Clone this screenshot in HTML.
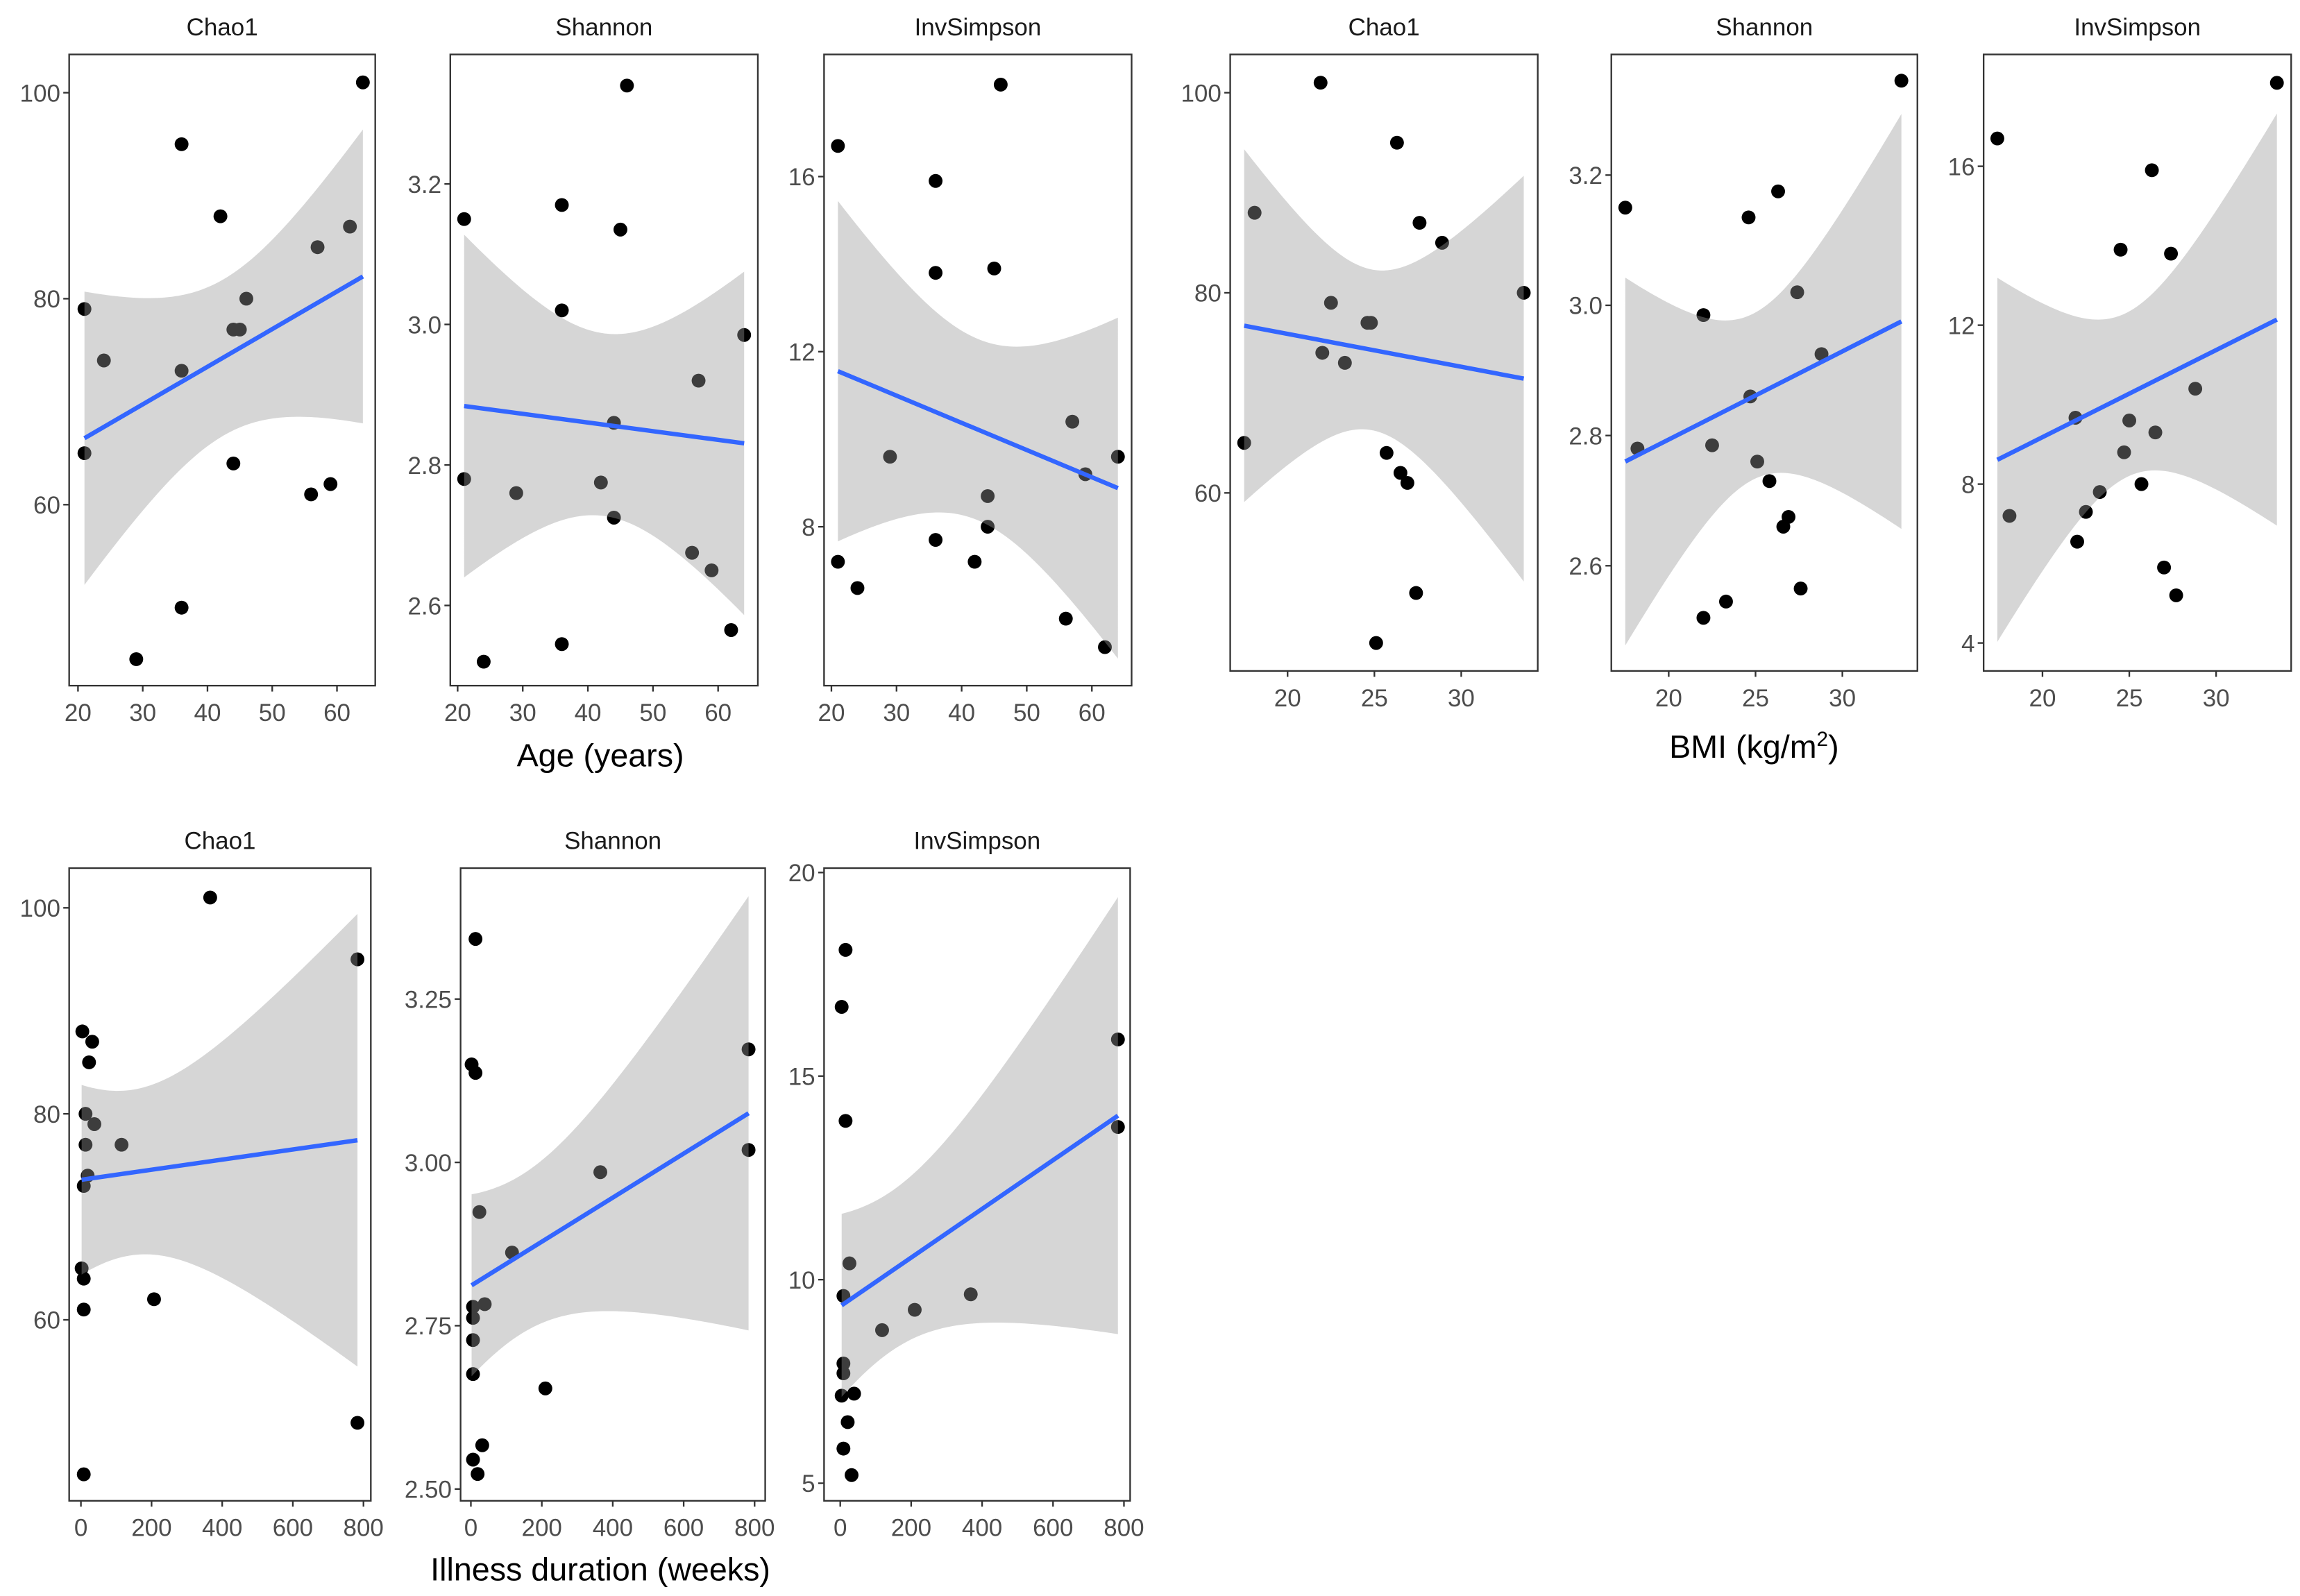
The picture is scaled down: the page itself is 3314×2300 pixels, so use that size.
<!DOCTYPE html>
<html><head><meta charset="utf-8">
<style>
html,body{margin:0;padding:0;background:#fff;}
svg{display:block;}
text{font-family:"Liberation Sans",Arial,sans-serif;}
</style></head>
<body>
<svg id="chart" width="3314" height="2300" viewBox="0 0 1563 1084.7" preserveAspectRatio="none" xmlns="http://www.w3.org/2000/svg">
<text x="408" y="521" font-size="22" text-anchor="middle" fill="#000">Age (years)</text>
<text x="1192" y="515" font-size="22" text-anchor="middle" fill="#000">BMI (kg/m<tspan dy="-8" font-size="14">2</tspan><tspan dy="8">)</tspan></text>
<text x="408" y="1074" font-size="22" text-anchor="middle" fill="#000">Illness duration (weeks)</text>
</svg>
<script>
const ageChaoX=[21,21,24,29,36,36,36,42,44,44,45,46,56,57,59,62,64];
const ageChao=[79,65,74,45,95,73,50,88,77,64,77,80,61,85,62,87,101];
const ageShanX=[21,21,24,29,36,36,36,42,44,44,45,46,56,57,59,62,64];
const ageShan=[3.15,2.78,2.52,2.76,3.17,3.02,2.545,2.775,2.86,2.725,3.135,3.34,2.675,2.92,2.65,2.565,2.985];
const ageInvX=[21,21,24,29,36,36,36,42,44,44,45,46,56,57,59,62,64];
const ageInv=[16.7,7.2,6.6,9.6,15.9,13.8,7.7,7.2,8.7,8.0,13.9,18.1,5.9,10.4,9.2,5.25,9.6];
const bmiChaoX=[17.5,18.1,21.9,22,22.5,23.3,24.6,24.8,25.1,25.7,26.3,26.5,26.9,27.4,27.6,28.9,33.6];
const bmiChao=[65,88,101,74,79,73,77,77,45,64,95,62,61,50,87,85,80];
const bmiShanX=[17.5,18.2,22,22,22.5,23.3,24.6,24.7,25.1,25.8,26.3,26.6,26.9,27.4,27.6,28.8,33.4];
const bmiShan=[3.15,2.78,2.985,2.52,2.785,2.545,3.135,2.86,2.76,2.73,3.175,2.66,2.675,3.02,2.565,2.925,3.345];
const bmiInvX=[17.4,18.1,21.9,22,22.5,23.3,24.5,24.7,25,25.7,26.3,26.5,27,27.4,27.7,28.8,33.5];
const bmiInv=[16.7,7.2,9.67,6.55,7.3,7.8,13.9,8.8,9.6,8,15.9,9.3,5.9,13.8,5.2,10.4,18.1];
const illChaoX=[8,4,32,23,13,38,13,115,19,8,2,8,8,207,366,783,783];
const illChao=[45,88,87,85,80,79,77,77,74,73,65,64,61,62,101,95,50];
const illShanX=[13,2,13,24,116,365,783,783,39,6,6,6,6,210,32,6,19];
const illShan=[3.342,3.15,3.137,2.924,2.862,2.985,3.173,3.019,2.783,2.779,2.762,2.728,2.676,2.654,2.567,2.545,2.523];
const illInvX=[15,4,783,15,783,26,9,368,210,118,9,9,39,4,21,9,32];
const illInv=[18.1,16.7,15.9,13.9,13.75,10.4,9.6,9.64,9.26,8.76,7.94,7.7,7.2,7.15,6.5,5.85,5.2];
const ageTicks=[20,30,40,50,60];
const bmiTicks=[20,25,30];
const illTicks=[0,200,400,600,800];
const chaoTicks=[60,80,100];
const shanAgeTicks=[2.6,2.8,3.0,3.2];
const invAgeTicks=[8,12,16];
const invBmiTicks=[4,8,12,16];
const shanIllTicks=[2.5,2.75,3.0,3.25];
const invIllTicks=[5,10,15,20];

const NS="http://www.w3.org/2000/svg";
const svg=document.getElementById('chart');
function mk(tag,attrs,parent){const e=document.createElementNS(NS,tag);for(const k in attrs)e.setAttribute(k,attrs[k]);(parent||svg).appendChild(e);return e;}

const panels=[
 {id:'age-chao1',title:'Chao1',box:[47,37,255,466],x0:20,xp:53,xs:4.4,y0:100,yp:63,ys:7,xd:ageChaoX,yd:ageChao,xt:ageTicks,yt:chaoTicks,fx:v=>String(v),fy:v=>String(v)},
 {id:'age-shannon',title:'Shannon',box:[306,37,515,466],x0:20,xp:311,xs:4.425,y0:3.2,yp:125,ys:477.5,xd:ageShanX,yd:ageShan,xt:ageTicks,yt:shanAgeTicks,fx:v=>String(v),fy:v=>v.toFixed(1)},
 {id:'age-invsimpson',title:'InvSimpson',box:[560,37,769,466],x0:20,xp:565,xs:4.425,y0:16,yp:120,ys:29.75,xd:ageInvX,yd:ageInv,xt:ageTicks,yt:invAgeTicks,fx:v=>String(v),fy:v=>String(v)},
 {id:'bmi-chao1',title:'Chao1',box:[836,37,1045,456],x0:20,xp:875,xs:11.8,y0:100,yp:63,ys:6.8,xd:bmiChaoX,yd:bmiChao,xt:bmiTicks,yt:chaoTicks,fx:v=>String(v),fy:v=>String(v)},
 {id:'bmi-shannon',title:'Shannon',box:[1095,37,1303,456],x0:20,xp:1134,xs:11.8,y0:3.2,yp:119,ys:442.5,xd:bmiShanX,yd:bmiShan,xt:bmiTicks,yt:shanAgeTicks,fx:v=>String(v),fy:v=>v.toFixed(1)},
 {id:'bmi-invsimpson',title:'InvSimpson',box:[1348,37,1557,456],x0:20,xp:1388,xs:11.8,y0:16,yp:113,ys:27,xd:bmiInvX,yd:bmiInv,xt:bmiTicks,yt:invBmiTicks,fx:v=>String(v),fy:v=>String(v)},
 {id:'illness-chao1',title:'Chao1',box:[47,590,252,1020],x0:0,xp:55,xs:0.24,y0:100,yp:617,ys:7,xd:illChaoX,yd:illChao,xt:illTicks,yt:chaoTicks,fx:v=>String(v),fy:v=>String(v)},
 {id:'illness-shannon',title:'Shannon',box:[313,590,520,1020],x0:0,xp:320,xs:0.241,y0:3.25,yp:679,ys:444,xd:illShanX,yd:illShan,xt:illTicks,yt:shanIllTicks,fx:v=>String(v),fy:v=>v.toFixed(2)},
 {id:'illness-invsimpson',title:'InvSimpson',box:[560,590,768,1020],x0:0,xp:571,xs:0.241,y0:20,yp:593,ys:27.67,xd:illInvX,yd:illInv,xt:illTicks,yt:invIllTicks,fx:v=>String(v),fy:v=>String(v)}
];

panels.forEach(p=>{
 const X=v=>p.xp+(v-p.x0)*p.xs, Y=v=>p.yp-(v-p.y0)*p.ys;
 const [bx0,by0,bx1,by1]=p.box;
 const g=mk('g',{});
 
 
 const t=mk('text',{x:(bx0+bx1)/2,y:by0-13,'font-size':16.5,'text-anchor':'middle',fill:'#1a1a1a'},g);
 
 
 t.textContent=p.title;
 p.xd.forEach((xv,i)=>{
  const c=mk('circle',{cx:X(xv),cy:Y(p.yd[i]),r:4.7,fill:'#000'},g);
  
  
 });
 const n=p.xd.length;
 const mx=p.xd.reduce((a,b)=>a+b,0)/n, my=p.yd.reduce((a,b)=>a+b,0)/n;
 let sxx=0,sxy=0;p.xd.forEach((xv,i)=>{sxx+=(xv-mx)**2;sxy+=(xv-mx)*(p.yd[i]-my);});
 const b=sxy/sxx,a=my-b*mx;
 let sse=0;p.xd.forEach((xv,i)=>{sse+=(p.yd[i]-a-b*xv)**2;});
 const s=Math.sqrt(sse/(n-2)),tq=2.131;
 const xmin=Math.min(...p.xd),xmax=Math.max(...p.xd);
 const up=[],lo=[];
 for(let k=0;k<=80;k++){
  const xv=xmin+(xmax-xmin)*k/80,f=a+b*xv,hw=tq*s*Math.sqrt(1/n+(xv-mx)**2/sxx);
  up.push(X(xv).toFixed(2)+','+Y(f+hw).toFixed(2));
  lo.unshift(X(xv).toFixed(2)+','+Y(f-hw).toFixed(2));
 }
 const band=mk('polygon',{points:up.concat(lo).join(' '),fill:'#999999','fill-opacity':0.4},g);
 
 
 const ln=mk('line',{x1:X(xmin),y1:Y(a+b*xmin),x2:X(xmax),y2:Y(a+b*xmax),stroke:'#3366FF','stroke-width':3},g);
 
 
 const r=mk('rect',{x:bx0,y:by0,width:bx1-bx0,height:by1-by0,fill:'none',stroke:'#333','stroke-width':1.1},g);
 
 
 p.xt.forEach(v=>{
  const px=X(v);
  const tk=mk('line',{x1:px,y1:by1,x2:px,y2:by1+4,stroke:'#333','stroke-width':1.1},g);
  
  
  const tl=mk('text',{x:px,y:by1+24,'font-size':16.5,'text-anchor':'middle',fill:'#4d4d4d'},g);
  
  
  tl.textContent=p.fx(v);
 });
 p.yt.forEach(v=>{
  const py=Y(v);
  const tk=mk('line',{x1:bx0-4,y1:py,x2:bx0,y2:py,stroke:'#333','stroke-width':1.1},g);
  
  
  const tl=mk('text',{x:bx0-6,y:py+6,'font-size':16.5,'text-anchor':'end',fill:'#4d4d4d'},g);
  
  
  tl.textContent=p.fy(v);
 });
});
</script>
</body></html>
